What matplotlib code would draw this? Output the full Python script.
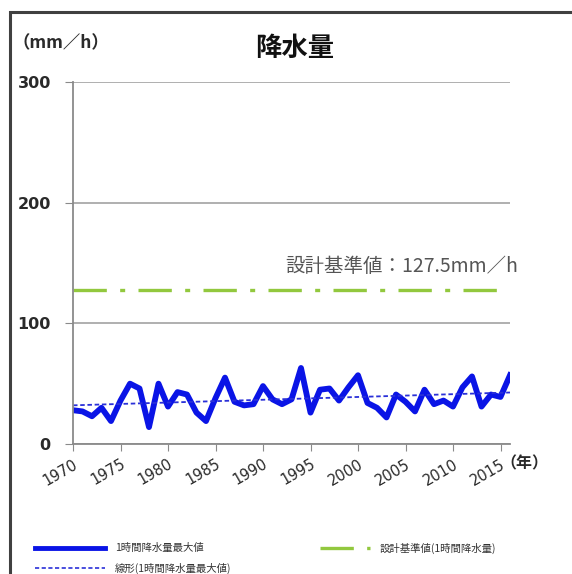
import numpy as np
import matplotlib
matplotlib.use("Agg")
import matplotlib.pyplot as plt
from matplotlib.patches import Rectangle

plt.rcParams['font.family'] = ['Noto Sans CJK JP', 'DejaVu Sans']

# 1時間降水量最大値 (mm/h)
years = list(range(1970, 2017))
rain = [28, 27, 23, 30, 19, 36, 50, 46, 14, 50,
        31, 43, 41, 26, 19, 38, 55, 35, 32, 33,
        48, 37, 33, 37, 63, 26, 45, 46, 36, 47,
        57, 34, 30, 22, 41, 35, 27, 45, 33, 36,
        31, 47, 56, 31, 41, 39, 57]
design = 127.5
yticks = [0, 100, 200, 300]
xticks = list(range(1970, 2016, 5))

fig = plt.figure(figsize=(5.72, 5.74), dpi=100)

# outer frame of the pasted chart
fig.patches.append(Rectangle((10/572, -0.05), 1.0, 1 - 12/574 + 0.05,
                             transform=fig.transFigure, fill=False,
                             edgecolor='#404040', linewidth=2.2))

ax = fig.add_axes([73/572, 1-444/574, 437/572, 362/574])

ax.plot(years, rain, color='#0a14e6', linewidth=4.2, solid_joinstyle='round')
# linear trend of the data
c = np.polyfit(years, rain, 1)
ax.plot([years[0], years[-1]], np.polyval(c, [years[0], years[-1]]),
        color='#2a30d8', linewidth=1.3, linestyle=(0, (2.5, 1.5)))
ax.plot([years[0], years[-1]], [design, design], color='#92c83e', linewidth=2.4,
        linestyle=(0, (10, 4, 1.5, 4)))

ax.set_xlim(1970, 2016)
ax.set_ylim(0, 300)
ax.set_yticks(yticks)
ax.set_xticks(xticks)
ax.grid(axis='y', color='#9a9a9a', linewidth=1.1)
ax.set_axisbelow(True)
for s in ['top', 'right']:
    ax.spines[s].set_visible(False)
for s in ['left', 'bottom']:
    ax.spines[s].set_color('#8a8a8a')
    ax.spines[s].set_linewidth(1.3)
ax.tick_params(axis='y', length=6, color='#8a8a8a', pad=10, labelsize=11.5)
ax.tick_params(axis='x', length=5, color='#8a8a8a', labelsize=10.5, pad=4)
for lab in ax.get_yticklabels():
    lab.set_fontfamily(['DejaVu Sans'])
    lab.set_fontweight('bold')
    lab.set_color('#2a2a2a')
for lab in ax.get_xticklabels():
    lab.set_rotation(30)
    lab.set_horizontalalignment('right')
    lab.set_rotation_mode('anchor')
    lab.set_fontfamily(['DejaVu Sans'])
    lab.set_color('#2a2a2a')

fig.text(295/572, 1-48/574, '降水量', ha='center', va='center', fontsize=19,
         fontweight='bold', color='#111111')
fig.text(12/572, 1-43/574, '（mm／h）', ha='left', va='center', fontsize=12.5,
         fontweight='bold', color='#2a2a2a')
fig.text(500/572, 1-463/574, '（年）', ha='left', va='center', fontsize=11.5,
         fontweight='bold', color='#2a2a2a')
fig.text(518/572, 1-277/574, '設計基準値：127.5mm／h', ha='right', va='bottom',
         fontsize=14, color='#555555')

# legend
lx0, lx1 = 35/572, 105/572
fig.add_artist(plt.Line2D([lx0, lx1], [1-548/574]*2, color='#0a14e6', linewidth=3.5))
fig.text(115/572, 1-548/574, '1時間降水量最大値', ha='left', va='center', fontsize=7.5, color='#333333')
fig.add_artist(plt.Line2D([lx0, lx1], [1-568/574]*2, color='#2a30d8', linewidth=1.2,
                          linestyle=(0, (2.5, 1.5))))
fig.text(115/572, 1-568/574, '線形(1時間降水量最大値)', ha='left', va='center', fontsize=7.5, color='#333333')
fig.add_artist(plt.Line2D([320/572, 370/572], [1-548/574]*2, color='#92c83e', linewidth=2.4,
                          linestyle=(0, (10, 4, 1.5, 4))))
fig.text(380/572, 1-548/574, '設計基準値(1時間降水量)', ha='left', va='center', fontsize=7.5, color='#333333')

fig.savefig('out.png', dpi=100)
